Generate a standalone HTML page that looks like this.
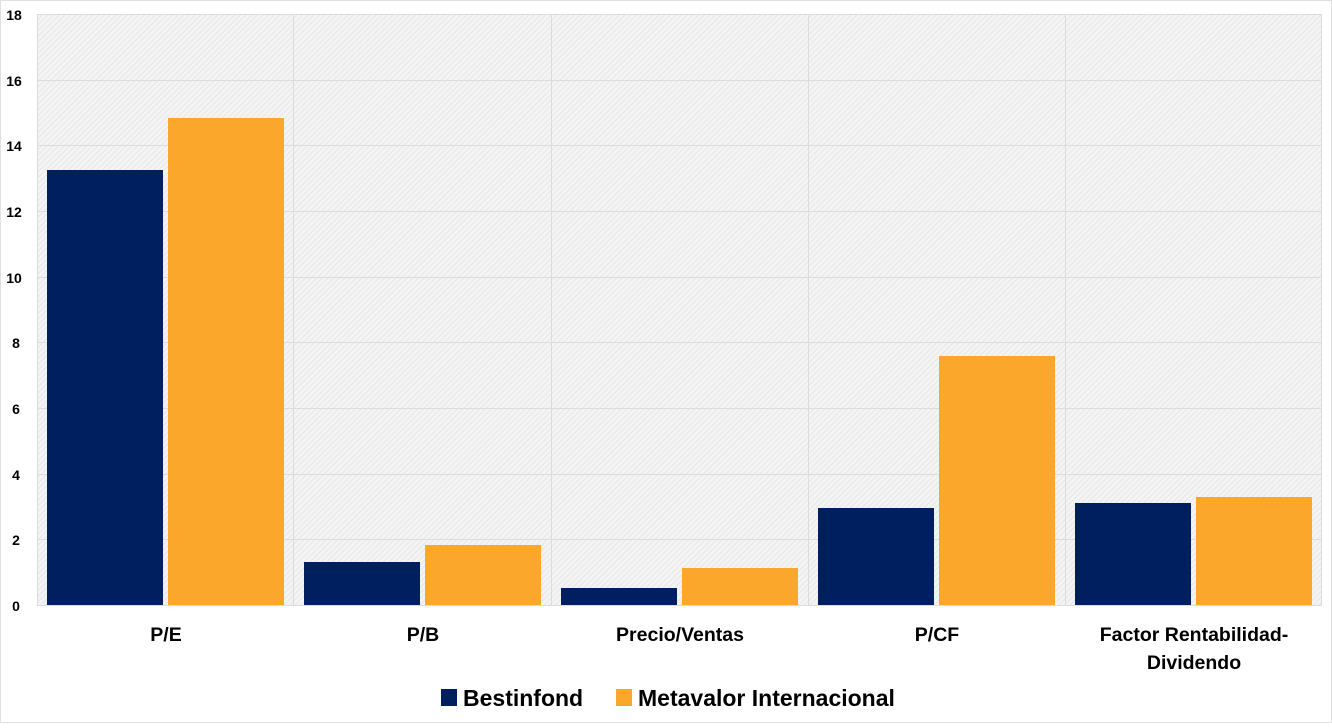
<!DOCTYPE html>
<html><head><style>
body{margin:0;background:#fff;}
svg text{font-family:"Liberation Sans",sans-serif;font-weight:bold;fill:#000;}
</style></head><body>
<svg width="1332" height="723" xmlns="http://www.w3.org/2000/svg">
<defs>
<pattern id="h" width="4" height="4" patternUnits="userSpaceOnUse" patternTransform="rotate(45)">
<rect width="4" height="4" fill="#f4f4f4"/><rect width="1" height="4" fill="#e6e6e6"/>
</pattern>
</defs>
<rect x="0.5" y="0.5" width="1331" height="722" fill="#fff" stroke="#e0e0e0"/>
<rect x="37" y="14" width="1285" height="591" fill="url(#h)"/>
<g stroke="#dcdcdc" stroke-width="1">
<line x1="37" x2="1322" y1="14.5" y2="14.5"/><line x1="37" x2="1322" y1="80.5" y2="80.5"/>
<line x1="37" x2="1322" y1="145.5" y2="145.5"/><line x1="37" x2="1322" y1="211.5" y2="211.5"/>
<line x1="37" x2="1322" y1="277.5" y2="277.5"/><line x1="37" x2="1322" y1="342.5" y2="342.5"/>
<line x1="37" x2="1322" y1="408.5" y2="408.5"/><line x1="37" x2="1322" y1="474.5" y2="474.5"/>
<line x1="37" x2="1322" y1="539.5" y2="539.5"/><line x1="37" x2="1322" y1="605.5" y2="605.5"/>
<line y1="14" y2="605" x1="37.5" x2="37.5"/><line y1="14" y2="605" x1="293.5" x2="293.5"/>
<line y1="14" y2="605" x1="551.5" x2="551.5"/><line y1="14" y2="605" x1="808.5" x2="808.5"/>
<line y1="14" y2="605" x1="1065.5" x2="1065.5"/><line y1="14" y2="605" x1="1321.5" x2="1321.5"/>
</g>
<g fill="#001f5f">
<rect x="47" y="170" width="116" height="435"/>
<rect x="304" y="562" width="116" height="43"/>
<rect x="561" y="588" width="116" height="17"/>
<rect x="818" y="508" width="116" height="97"/>
<rect x="1075" y="503" width="116" height="102"/>
</g>
<g fill="#fba72b">
<rect x="168" y="118" width="116" height="487"/>
<rect x="425" y="545" width="116" height="60"/>
<rect x="682" y="568" width="116" height="37"/>
<rect x="939" y="356" width="116" height="249"/>
<rect x="1196" y="497" width="116" height="108"/>
</g>
<g font-size="14" text-anchor="middle">
<text x="14" y="20">18</text><text x="14" y="86">16</text><text x="14" y="151">14</text>
<text x="14" y="217">12</text><text x="14" y="283">10</text><text x="16" y="348">8</text>
<text x="16" y="414">6</text><text x="16" y="480">4</text><text x="16" y="545">2</text>
<text x="16" y="611">0</text>
</g>
<g font-size="19.5" text-anchor="middle">
<text x="166" y="641">P/E</text><text x="423" y="641">P/B</text>
<text x="680" y="641">Precio/Ventas</text><text x="937" y="641">P/CF</text>
<text x="1194" y="641">Factor Rentabilidad-</text><text x="1194" y="669">Dividendo</text>
</g>
<rect x="441" y="689" width="16" height="17" fill="#001f5f"/>
<text x="463" y="706" font-size="23">Bestinfond</text>
<rect x="616" y="689" width="16" height="17" fill="#fba72b"/>
<text x="638" y="706" font-size="23">Metavalor Internacional</text>
</svg>
</body></html>
